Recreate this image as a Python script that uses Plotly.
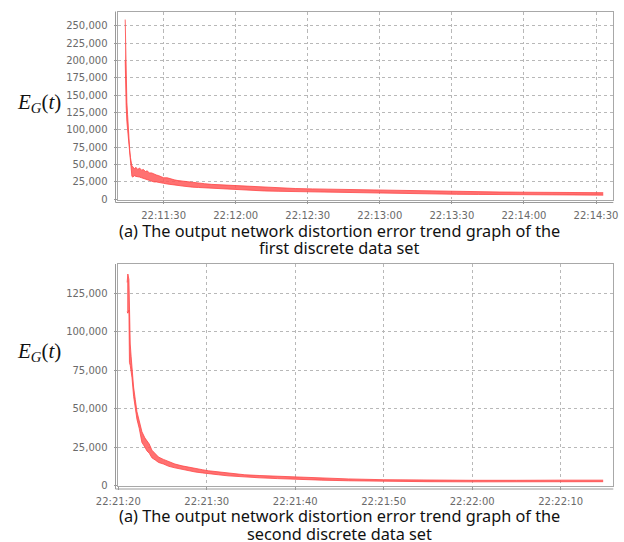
import plotly.graph_objects as go
import pandas as pd

W, H = 624, 542

# ---------------- data ----------------
# Chart (a) first data set: seconds relative to 22:11:30, band upper / lower values
base1 = "2021-01-01 22:11:30"
t1 = [-16.0, -15.8, -15.6, -15.3, -15.0, -14.7, -14.4, -14.1, -13.8, -13.5,
      -13.2, -12.8, -12.2, -11.5, -10.8, -10.0, -9.2, -8.4, -7.6, -6.8,
      -6.0, -5.0, -4.0, -3.0, -2.0, -1.0, 0.0, 1.5, 3.0, 4.5,
      6.0, 8.0, 10.0, 12.0, 14.5, 17.0, 20.0, 23.0, 27.0, 31.0,
      36.0, 42.0, 48.0, 55.0, 62.0, 70.0, 78.0, 86.0, 95.0, 104.0,
      113.0, 122.0, 131.0, 140.0, 150.0, 160.0, 170.0, 178.0, 183.0]
hi1 = [259000, 215000, 160000, 140000, 122000, 98000, 82000, 70000, 60000, 52000,
       48000, 47000, 44000, 46000, 43000, 45000, 42000, 43000, 40000, 41000,
       38000, 38000, 36000, 35000, 34000, 33000, 31000, 31000, 29000, 28000,
       27000, 26000, 25000, 24000, 23000, 22500, 21500, 21000, 20000, 19000,
       18000, 17500, 16500, 15500, 15000, 14500, 14000, 13500, 12500, 12000,
       11500, 11000, 10800, 10500, 10200, 10000, 9800, 9600, 9500]
lo1 = [200000, 150000, 135000, 112000, 100000, 86000, 72000, 60000, 50000, 40000,
       33000, 32000, 34000, 33000, 33000, 32000, 31000, 30000, 29000, 28000,
       27000, 26000, 25000, 25000, 24000, 23000, 23000, 22000, 21000, 20000,
       20000, 19000, 18000, 17500, 17000, 16500, 15500, 15000, 14000, 13500,
       13000, 12000, 11500, 11000, 10500, 10000, 9500, 9000, 8500, 8000,
       7500, 7200, 7000, 6800, 6500, 6300, 6100, 6000, 6000]

# Chart (a) second data set: seconds relative to 22:21:20
base2 = "2021-01-01 22:21:20"
t2 = [1.00, 1.08, 1.20, 1.26, 1.35, 1.45, 1.55, 1.73, 1.92, 2.11,
      2.37, 2.67, 3.0, 3.24, 3.5, 3.8, 4.2, 4.55, 5.1, 5.7,
      6.4, 7.2, 8.0, 8.7, 9.5, 10.2, 11.3, 12.4, 14.3, 16.0,
      18.0, 20.0, 23.0, 26.0, 30.0, 35.0, 40.0, 45.0, 48.0, 50.0, 54.8]
hi2 = [132000, 137500, 134000, 96000, 92000, 84000, 76000, 64000, 56000, 48000,
       42000, 35000, 31000, 29000, 27000, 23000, 20500, 18500, 17000, 15500,
       14000, 12800, 11800, 11000, 10300, 9600, 8800, 8000, 7000, 6500,
       6000, 5500, 4800, 4300, 3800, 3500, 3400, 3400, 3700, 3500, 3500]
lo2 = [113000, 112000, 114000, 80000, 78000, 74000, 70000, 58000, 49000, 43000,
       37000, 28000, 25000, 22500, 21000, 18000, 16500, 15000, 14000, 12500,
       11500, 10500, 9500, 8800, 8200, 7600, 7000, 6300, 5400, 5000,
       4500, 4000, 3500, 3100, 2700, 2500, 2400, 2300, 2500, 2400, 2500]

y_label = "<i>E</i><sub><i>G</i></sub>(<i>t</i>)"
caption1 = ["(a) The output network distortion error trend graph of the",
            "first discrete data set"]
caption2 = ["(a) The output network distortion error trend graph of the",
            "second discrete data set"]


def to_times(base, secs):
    b = pd.Timestamp(base)
    return [(b + pd.to_timedelta(s, unit="s")).strftime("%Y-%m-%d %H:%M:%S.%f") for s in secs]


def ts(base, s):
    return (pd.Timestamp(base) + pd.to_timedelta(s, unit="s")).strftime("%Y-%m-%d %H:%M:%S.%f")


# ---------------- geometry (pixels) ----------------
def px_x(p):
    return p / W


def px_y(p):
    return 1 - p / H


P1 = dict(l=117.5, r=613.3, t=11.5, b=199.5)
P2 = dict(l=117.5, r=613.3, t=264.0, b=486.0)

LINE = "rgb(255,70,70)"
FILL = "rgba(255,88,88,0.85)"
GRID = "#b8b8b8"
FRAME = "#a8a8a8"
TICKC = "#6a6a6a"

fig = go.Figure()

x1 = to_times(base1, t1)
x2 = to_times(base2, t2)

fig.add_trace(go.Scatter(x=x1, y=lo1, mode="lines", line=dict(color=LINE, width=0.8),
                         xaxis="x", yaxis="y", showlegend=False, hoverinfo="skip"))
fig.add_trace(go.Scatter(x=x1, y=hi1, mode="lines", line=dict(color=LINE, width=0.8),
                         fill="tonexty", fillcolor=FILL,
                         xaxis="x", yaxis="y", showlegend=False, hoverinfo="skip"))
fig.add_trace(go.Scatter(x=x2, y=lo2, mode="lines", line=dict(color=LINE, width=0.8),
                         xaxis="x2", yaxis="y2", showlegend=False, hoverinfo="skip"))
fig.add_trace(go.Scatter(x=x2, y=hi2, mode="lines", line=dict(color=LINE, width=0.8),
                         fill="tonexty", fillcolor=FILL,
                         xaxis="x2", yaxis="y2", showlegend=False, hoverinfo="skip"))

tickfont = dict(family="DejaVu Sans", size=10, color=TICKC)

common_ax = dict(showline=True, mirror=True, linecolor=FRAME, linewidth=1,
                 showgrid=True, gridcolor=GRID, griddash="dot", gridwidth=1,
                 ticks="outside", ticklen=3, tickcolor="#999999",
                 tickfont=tickfont, zeroline=False, fixedrange=True,
                 automargin=False)

fig.update_layout(
    width=W, height=H,
    margin=dict(l=0, r=0, t=0, b=0, autoexpand=False),
    paper_bgcolor="white", plot_bgcolor="white",
    xaxis=dict(domain=[px_x(P1["l"]), px_x(P1["r"])], anchor="y", type="date",
               range=[ts(base1, -19.2), ts(base1, 187.2)],
               tick0=base1, dtick=30000, tickformat="%H:%M:%S",
               ticklabelstandoff=3, **common_ax),
    yaxis=dict(domain=[px_y(P1["b"]), px_y(P1["t"])], anchor="x",
               range=[-300, 270600], tick0=0, dtick=25000,
               tickformat=",d", ticklabelstandoff=4, **common_ax),
    xaxis2=dict(domain=[px_x(P2["l"]), px_x(P2["r"])], anchor="y2", type="date",
                range=[ts(base2, -0.09), ts(base2, 55.95)],
                tick0=base2, dtick=10000, tickformat="%H:%M:%S",
                ticklabelstandoff=3, **common_ax),
    yaxis2=dict(domain=[px_y(P2["b"]), px_y(P2["t"])], anchor="x2",
                range=[-300, 144000], tick0=0, dtick=25000,
                tickformat=",d", ticklabelstandoff=4, **common_ax),
)

# offset axis lines (like the reference's double-line axes)
shapes = []
for P in (P1, P2):
    ox, oy = P["l"] - 2.0, P["b"] + 3.0
    shapes.append(dict(type="line", xref="paper", yref="paper",
                       x0=px_x(ox), x1=px_x(ox), y0=px_y(P["t"]), y1=px_y(oy),
                       line=dict(color="#9a9a9a", width=1)))
    shapes.append(dict(type="line", xref="paper", yref="paper",
                       x0=px_x(ox), x1=px_x(P["r"]), y0=px_y(oy), y1=px_y(oy),
                       line=dict(color="#9a9a9a", width=1)))
fig.update_layout(shapes=shapes)

ann = []
for yc in (103, 352):
    ann.append(dict(text=y_label, x=px_x(39), y=px_y(yc), xref="paper", yref="paper",
                    showarrow=False, xanchor="center", yanchor="middle",
                    font=dict(family="Liberation Serif", size=21, color="#111111")))
for lines, y0 in ((caption1, 231), (caption2, 516)):
    for i, txt in enumerate(lines):
        ann.append(dict(text=txt, x=px_x(340), y=px_y(y0 + 17.5 * i),
                        xref="paper", yref="paper", showarrow=False,
                        xanchor="center", yanchor="middle",
                        font=dict(family="Noto Sans", size=16.3, color="#111111")))
fig.update_layout(annotations=ann)

fig.write_html("out.html")
